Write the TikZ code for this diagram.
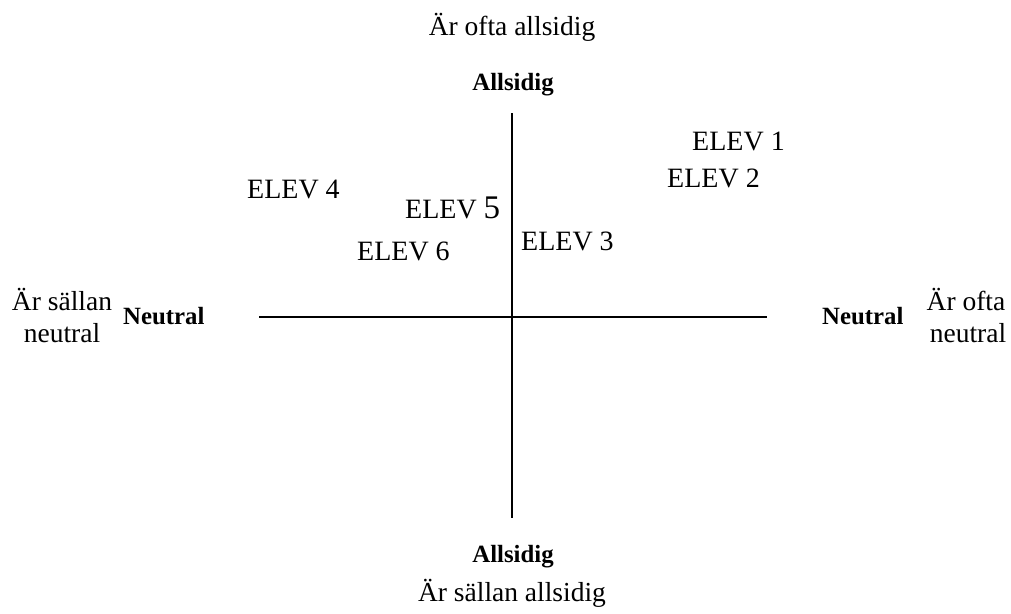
\documentclass[tikz,border=0pt]{standalone}
\usepackage{fontspec}
\setmainfont{Liberation Serif}
\begin{document}
\begin{tikzpicture}[x=1pt,y=-1pt,
  lbl/.style={inner sep=0pt,font=\fontsize{27.5}{32}\selectfont},
  bld/.style={inner sep=0pt,font=\fontsize{24.8}{28}\selectfont\bfseries},
  elev/.style={inner sep=0pt,anchor=base west,font=\fontsize{28}{32}\selectfont},
  axis/.style={line width=1.6pt}]
\useasboundingbox (0,0) rectangle (1011,613);
% axes
\coordinate (vt) at (512,113);
\coordinate (vb) at (512,518);
\coordinate (hl) at (259,317);
\coordinate (hr) at (767,317);
\draw[axis] (vt) -- (vb);
\draw[axis] (hl) -- (hr);
% top/bottom labels
\node[lbl,anchor=base] (topT) at (512,35) {Är ofta allsidig};
\node[bld,anchor=base] (topB) at (513,90) {Allsidig};
\node[bld,anchor=base] (botB) at (513,562) {Allsidig};
\node[lbl,anchor=base] (botT) at (512,601) {Är sällan allsidig};
% left labels
\node[lbl,anchor=base] (l1) at (62,310) {Är sällan};
\node[lbl,anchor=base] (l2) at (62,342) {neutral};
\node[bld,anchor=base west] (lN) at (123,324) {Neutral};
% right labels
\node[bld,anchor=base west] (rN) at (822,324) {Neutral};
\node[lbl,anchor=base] (r1) at (966,310) {Är ofta};
\node[lbl,anchor=base] (r2) at (968,342) {neutral};
% students
\node[elev] (e1) at (692,150) {ELEV 1};
\node[elev] (e2) at (667,187) {ELEV 2};
\node[elev] (e3) at (521,250) {ELEV 3};
\node[elev] (e4) at (247,198) {ELEV 4};
\node[elev] (e5) at (405,218) {ELEV {\fontsize{33}{36}\selectfont 5}};
\node[elev] (e6) at (357,260) {ELEV 6};
\end{tikzpicture}
\end{document}
